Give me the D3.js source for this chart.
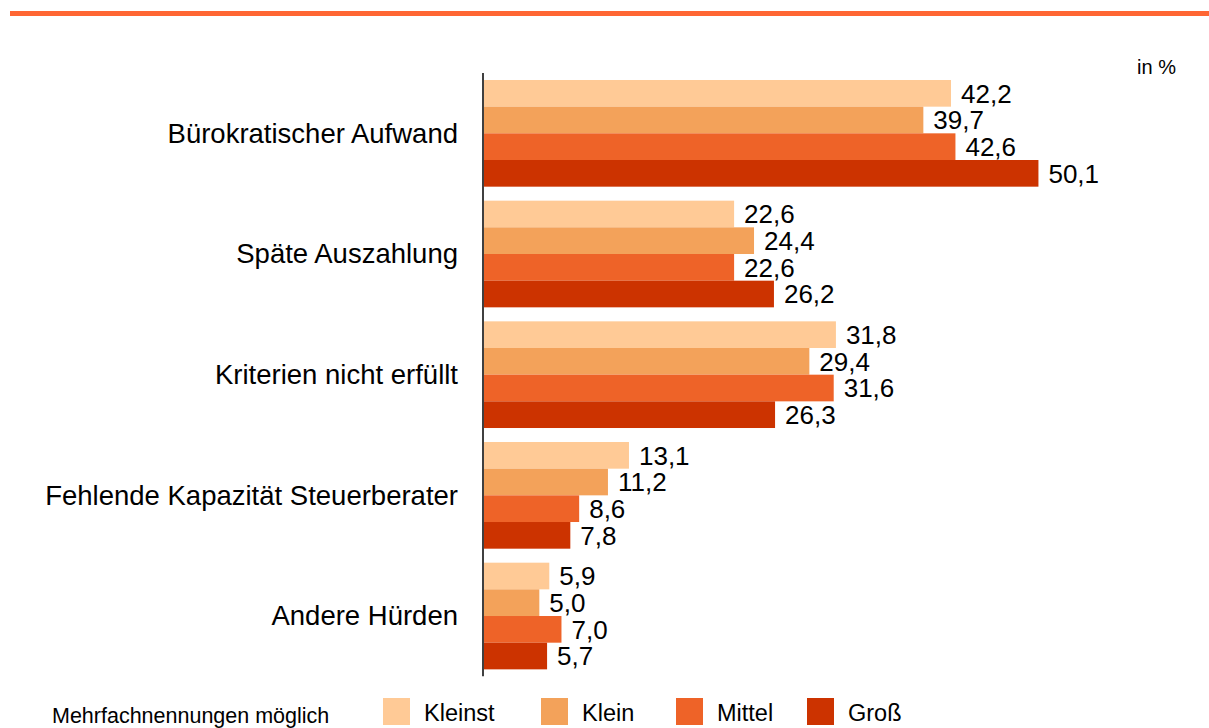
<!DOCTYPE html>
<html><head><meta charset="utf-8">
<script src="https://cdn.jsdelivr.net/npm/d3@7"></script>
<style>body{margin:0;background:#fff}svg{display:block;font-family:Arial,"Liberation Sans",sans-serif}</style>
</head><body>
<svg id="c" width="1209" height="728"></svg>
<script>
const categories = ["Bürokratischer Aufwand","Späte Auszahlung","Kriterien nicht erfüllt","Fehlende Kapazität Steuerberater","Andere Hürden"];
const seriesNames = ["Kleinst","Klein","Mittel","Groß"];
const kleinst = [42.2,22.6,31.8,13.1,5.9];
const klein   = [39.7,24.4,29.4,11.2,5.0];
const mittel  = [42.6,22.6,31.6,8.6,7.0];
const gross   = [50.1,26.2,26.3,7.8,5.7];
const colors = ["#FFCA96","#F3A25A","#EE6328","#CC3300"];
const unitLabel = "in %";
const note = "Mehrfachnennungen möglich";
const legendX = [383,541,676,807];

const series = [kleinst, klein, mittel, gross];
const svg = d3.select("#c");

svg.append("rect").attr("x",10).attr("y",11).attr("width",1199).attr("height",5).attr("fill","#FF6633");

const x = d3.scaleLinear().domain([0,60]).range([484,1148]);
const y0 = d3.scaleBand().domain(categories).range([73,676.35]).paddingInner(0.116).paddingOuter(0.058);
const y1 = d3.scaleBand().domain(seriesNames).range([0,y0.bandwidth()]).padding(0);

const fmt = v => d3.format(".1f")(v).replace(".",",");

categories.forEach((cat,ci)=>{
  const g = svg.append("g").attr("transform",`translate(0,${y0(cat)})`);
  seriesNames.forEach((s,si)=>{
    const v = series[si][ci];
    g.append("rect").attr("x",x(0)).attr("y",y1(s)).attr("width",x(v)-x(0)).attr("height",y1.bandwidth()).attr("fill",colors[si]);
    g.append("text").attr("x",x(v)+10).attr("y",y1(s)+y1.bandwidth()/2).attr("dy","0.36em")
      .attr("font-size",26).attr("fill","#000").text(fmt(v));
  });
  svg.append("text").attr("x",458).attr("y",y0(cat)+y0.bandwidth()/2).attr("dy","0.34em")
    .attr("text-anchor","end").attr("font-size",27.5).attr("fill","#000").text(cat);
});

svg.append("line").attr("x1",483).attr("x2",483).attr("y1",73).attr("y2",676.35).attr("stroke","#000").attr("stroke-width",1.5);

svg.append("text").attr("x",1176).attr("y",74).attr("text-anchor","end").attr("font-size",20).text(unitLabel);

svg.append("text").attr("x",52).attr("y",723).attr("font-size",21.5).text(note);

seriesNames.forEach((s,si)=>{
  const lx = legendX[si];
  svg.append("rect").attr("x",lx).attr("y",698).attr("width",27).attr("height",27).attr("fill",colors[si]);
  svg.append("text").attr("x",lx+41).attr("y",721).attr("font-size",23.5).text(s);
});
</script>
</body></html>
